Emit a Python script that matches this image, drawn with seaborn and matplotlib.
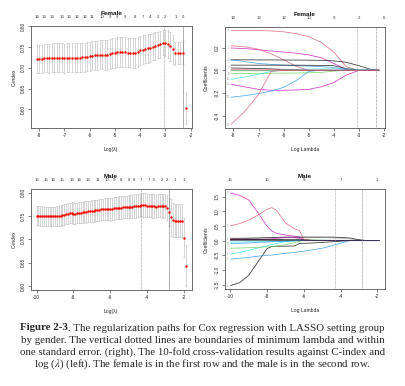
import numpy as np
import pandas as pd
import matplotlib
matplotlib.use("Agg")
import matplotlib.pyplot as plt
import seaborn as sns

sns.set_theme(style="white")
plt.rcParams['font.family'] = ['Liberation Sans', 'DejaVu Sans']
plt.rcParams['mathtext.fontset'] = 'stix'

# ---------------- Female cross-validation (C-index) ----------------
fem_loglam = [-8.1, -8.0, -7.9, -7.8, -7.7, -7.6, -7.5, -7.4, -7.3, -7.2, -7.1, -7.0,
              -6.9, -6.8, -6.7, -6.6, -6.5, -6.4, -6.3, -6.2, -6.1, -6.0,
              -5.9, -5.8, -5.7, -5.6, -5.5, -5.4, -5.3, -5.2, -5.1, -5.0,
              -4.9, -4.8, -4.7, -4.6, -4.5, -4.4, -4.3, -4.2, -4.1, -4.0,
              -3.9, -3.8, -3.7, -3.6, -3.5, -3.4, -3.3, -3.2, -3.1, -3.0,
              -2.9, -2.8, -2.7, -2.6, -2.5, -2.4, -2.3, -2.2]
fem_cindex = [0.722, 0.722, 0.722, 0.723, 0.723, 0.723, 0.724, 0.724, 0.724, 0.724, 0.724, 0.723,
              0.724, 0.724, 0.725, 0.725, 0.725, 0.725, 0.726, 0.726, 0.727, 0.728,
              0.729, 0.730, 0.731, 0.732, 0.732, 0.732, 0.732, 0.733, 0.735, 0.736,
              0.738, 0.739, 0.739, 0.738, 0.737, 0.737, 0.736, 0.735, 0.738, 0.742,
              0.744, 0.746, 0.747, 0.749, 0.751, 0.753, 0.755, 0.757, 0.761, 0.760,
              0.758, 0.752, 0.745, 0.735, 0.736, 0.736, 0.737, 0.603]
fem_se = [0.034, 0.034, 0.034, 0.034, 0.034, 0.035, 0.035, 0.035, 0.035, 0.035, 0.035, 0.035,
          0.035, 0.035, 0.035, 0.035, 0.035, 0.035, 0.035, 0.035, 0.035, 0.035,
          0.035, 0.035, 0.035, 0.035, 0.035, 0.036, 0.036, 0.036, 0.036, 0.036,
          0.036, 0.036, 0.036, 0.036, 0.036, 0.036, 0.036, 0.036, 0.036, 0.035,
          0.035, 0.034, 0.034, 0.034, 0.033, 0.033, 0.032, 0.032, 0.031, 0.031,
          0.033, 0.035, 0.035, 0.027, 0.027, 0.027, 0.027, 0.039]
fem_lam_min = -3.07
fem_lam_1se = -2.32
fem_df_pos = [-8.1, -7.8, -7.5, -7.1, -6.8, -6.5, -6.2, -5.9, -5.5, -5.2,
              -4.9, -4.6, -4.2, -3.9, -3.6, -3.3, -3.0, -2.6, -2.3]
fem_df_lab = ["14", "13", "13", "13", "13", "12", "12", "11", "10", "9",
              "9", "9", "8", "7", "4", "2", "2", "1", "0"]

# ---------------- Male cross-validation (C-index) ----------------
male_loglam = [-10.0, -9.9, -9.8, -9.7, -9.6, -9.5, -9.4, -9.3, -9.2, -9.1,
               -9.0, -8.9, -8.8, -8.7, -8.6, -8.5, -8.4, -8.3, -8.2, -8.1,
               -8.0, -7.9, -7.8, -7.7, -7.6, -7.5, -7.4, -7.3, -7.2, -7.1,
               -7.0, -6.9, -6.8, -6.7, -6.6, -6.5, -6.4, -6.3, -6.2, -6.1,
               -6.0, -5.9, -5.8, -5.7, -5.6, -5.5, -5.4, -5.3, -5.2, -5.1,
               -5.0, -4.9, -4.8, -4.7, -4.6, -4.5, -4.4, -4.3, -4.2, -4.1,
               -4.0, -3.9, -3.8, -3.7, -3.6, -3.5, -3.4, -3.3, -3.2, -3.1,
               -3.0, -2.9, -2.8, -2.7, -2.6, -2.5, -2.4, -2.3, -2.2, -2.1,
               -2.0, -1.9]
male_cindex = [0.751, 0.751, 0.750, 0.750, 0.749, 0.749, 0.749, 0.749, 0.749, 0.749,
               0.749, 0.750, 0.750, 0.751, 0.752, 0.753, 0.754, 0.755, 0.756, 0.757,
               0.755, 0.755, 0.756, 0.757, 0.757, 0.758, 0.759, 0.759, 0.760, 0.760,
               0.761, 0.761, 0.762, 0.762, 0.763, 0.764, 0.764, 0.765, 0.765, 0.765,
               0.764, 0.765, 0.766, 0.767, 0.767, 0.768, 0.768, 0.769, 0.769, 0.769,
               0.770, 0.770, 0.770, 0.771, 0.771, 0.772, 0.772, 0.774, 0.773, 0.773,
               0.772, 0.772, 0.772, 0.771, 0.771, 0.770, 0.772, 0.772, 0.771, 0.772,
               0.771, 0.768, 0.759, 0.747, 0.741, 0.740, 0.740, 0.740, 0.740, 0.740,
               0.704, 0.644]
male_se = [0.021, 0.021, 0.021, 0.021, 0.021, 0.021, 0.021, 0.021, 0.021, 0.021,
           0.021, 0.021, 0.021, 0.022, 0.022, 0.022, 0.022, 0.022, 0.022, 0.022,
           0.022, 0.022, 0.022, 0.022, 0.022, 0.022, 0.022, 0.023, 0.023, 0.023,
           0.023, 0.023, 0.023, 0.023, 0.023, 0.023, 0.023, 0.023, 0.024, 0.024,
           0.024, 0.024, 0.024, 0.024, 0.024, 0.024, 0.024, 0.024, 0.024, 0.024,
           0.024, 0.024, 0.024, 0.025, 0.025, 0.025, 0.025, 0.025, 0.025, 0.025,
           0.025, 0.025, 0.025, 0.025, 0.025, 0.025, 0.025, 0.025, 0.025, 0.025,
           0.026, 0.027, 0.030, 0.040, 0.036, 0.035, 0.035, 0.035, 0.035, 0.035,
           0.042, 0.044]
male_lam_min = -4.30
male_lam_1se = -2.81
male_df_pos = [-10.0, -9.5, -9.1, -8.6, -8.1, -7.7, -7.2, -6.7, -6.2, -5.8,
               -5.4, -5.0, -4.7, -4.3, -3.9, -3.6, -3.2, -2.9, -2.5, -2.0]
male_df_lab = ["16", "16", "14", "15", "16", "14", "13", "11", "10", "9",
               "8", "8", "8", "7", "7", "5", "2", "2", "1", "1"]

# ---------------- Female coefficient paths ----------------
fem_path_loglam = [-8.1, -7.5, -7.0, -6.5, -6.0, -5.5, -5.0, -4.5, -4.0, -3.5, -3.0, -2.5, -2.2]
f_p1 = [0.350, 0.350, 0.349, 0.346, 0.338, 0.322, 0.295, 0.245, 0.160, 0.030, 0, 0, 0]
f_p2 = [0.196, 0.190, 0.180, 0.170, 0.160, 0.150, 0.135, 0.110, 0.060, 0.005, 0, 0, 0]
f_p3 = [0.216, 0.205, 0.185, 0.145, 0.092, 0.035, 0, 0, 0, 0, 0, 0, 0]
f_p4 = [0.092, 0.092, 0.091, 0.091, 0.090, 0.090, 0.089, 0.087, 0.083, 0.070, 0.040, 0.005, 0]
f_p5 = [0.092, 0.075, 0.060, 0.052, 0.045, 0.040, 0.036, 0.032, 0.025, 0.005, 0, 0, 0]
f_p6 = [0.045, 0.045, 0.045, 0.045, 0.045, 0.045, 0.044, 0.043, 0.040, 0.015, 0, 0, 0]
f_p7 = [-0.004, -0.004, -0.004, -0.004, -0.003, -0.003, -0.003, -0.002, -0.001, 0, 0, 0, 0]
f_p8 = [-0.030, -0.028, -0.027, -0.026, -0.025, -0.024, -0.022, -0.018, -0.008, 0, 0, 0, 0]
f_p9 = [-0.080, -0.058, -0.035, -0.010, 0.005, 0.008, 0.010, 0.012, 0.013, 0.012, 0.008, 0.003, 0]
f_p10 = [-0.122, -0.148, -0.168, -0.176, -0.176, -0.173, -0.168, -0.145, -0.108, -0.042, 0, 0, 0]
f_p11 = [-0.237, -0.222, -0.205, -0.183, -0.150, -0.090, -0.010, 0, 0, 0, 0, 0, 0]
f_p12 = [-0.477, -0.350, -0.213, -0.010, 0, 0, 0, 0, 0, 0, 0, 0, 0]
f_p13 = [0.020, 0.018, 0.015, 0.012, 0.008, 0.004, 0, 0, 0, 0, 0, 0, 0]
f_p14 = [0.005, 0.005, 0.004, 0.004, 0.003, 0.003, 0.002, 0.002, 0.001, 0.001, 0, 0, 0]
fem_paths = [f_p1, f_p2, f_p3, f_p4, f_p5, f_p6, f_p13, f_p7, f_p8, f_p9, f_p10, f_p11, f_p12, f_p14]
fem_colors = ["#DF536B", "#CD0BBC", "#DF536B", "black", "#2297E6", "black", "black",
              "#1E8C2E", "#61D04F", "#28E2E5", "#CD0BBC", "#2297E6", "#DF536B", "#DF536B"]
fem_top_pos = [-8, -7, -6, -5, -4, -3, -2]
fem_top_lab = ["14", "13", "12", "10", "9", "2", "0"]

# ---------------- Male coefficient paths ----------------
male_path_loglam = [-10.0, -9.5, -9.0, -8.5, -8.0, -7.75, -7.5, -7.0, -6.5, -6.25,
                    -6.0, -5.5, -5.0, -4.5, -4.0, -3.5, -3.0, -2.5, -2.0, -1.9]
m_p1 = [1.62, 1.54, 1.38, 0.95, 0.48, 0.33, 0.25, 0.19, 0.15, 0.13, 0.02, 0, 0, 0, 0, 0, 0, 0, 0, 0]
m_p2 = [0.50, 0.58, 0.70, 0.87, 1.07, 1.12, 1.04, 0.60, 0.40, 0.35, 0.05, 0, 0, 0, 0, 0, 0, 0, 0, 0]
m_p3 = [-1.53, -1.43, -1.18, -0.72, -0.27, -0.20, -0.19, -0.19, -0.18, -0.10, -0.09, -0.08, -0.06, -0.04, -0.02, 0, 0, 0, 0, 0]
m_p4 = [-0.63, -0.60, -0.57, -0.53, -0.50, -0.49, -0.47, -0.43, -0.40, -0.38, -0.36, -0.31, -0.26, -0.18, -0.09, 0, 0, 0, 0, 0]
m_p5 = [-0.46, -0.40, -0.33, -0.25, -0.17, -0.13, -0.10, -0.03, 0, 0, 0, 0, 0, 0, 0, 0, 0, 0, 0, 0]
m_p6 = [-0.26, -0.25, -0.24, -0.23, -0.21, -0.20, -0.19, -0.14, -0.07, -0.03, 0, 0, 0, 0, 0, 0, 0, 0, 0, 0]
m_p7 = [0.08, 0.08, 0.085, 0.09, 0.10, 0.10, 0.11, 0.12, 0.12, 0.12, 0.12, 0.12, 0.12, 0.12, 0.11, 0.09, 0.03, 0, 0, 0]
m_p8 = [0.06, 0.06, 0.07, 0.08, 0.09, 0.10, 0.10, 0.10, 0.10, 0.10, 0.10, 0.10, 0.10, 0.09, 0.08, 0.06, 0.02, 0, 0, 0]
m_p9 = [0.05, 0.05, 0.04, 0.03, 0.02, 0.02, 0.01, 0, 0, 0, 0, 0, 0, 0, 0, 0, 0, 0, 0, 0]
m_p10 = [0.02, 0.02, 0.02, 0.02, 0.02, 0.02, 0.02, 0.02, 0.02, 0.02, 0.02, 0.02, 0.015, 0.01, 0.005, 0, 0, 0, 0, 0]
m_p11 = [-0.05, -0.05, -0.04, -0.04, -0.03, -0.03, -0.03, -0.02, -0.01, 0, 0, 0, 0, 0, 0, 0, 0, 0, 0, 0]
m_p12 = [-0.10, -0.09, -0.08, -0.06, -0.05, -0.04, -0.03, -0.02, -0.01, 0, 0, 0, 0, 0, 0, 0, 0, 0, 0, 0]
m_p13 = [0.03, 0.03, 0.03, 0.04, 0.05, 0.06, 0.08, 0.10, 0.10, 0.08, 0, 0, 0, 0, 0, 0, 0, 0, 0, 0]
m_p14 = [0.04, 0.04, 0.04, 0.04, 0.04, 0.04, 0.04, 0.03, 0.03, 0.03, 0.02, 0.01, 0, 0, 0, 0, 0, 0, 0, 0]
m_p15 = [0.01, 0.01, 0.01, 0.01, 0.01, 0.01, 0.01, 0.01, 0.01, 0.01, 0.01, 0.01, 0.01, 0.01, 0.01, 0.01, 0.01, 0.008, 0.004, 0]
male_paths = [m_p8, m_p1, m_p2, m_p3, m_p4, m_p5, m_p6, m_p7, m_p9, m_p10, m_p11, m_p12, m_p13, m_p14, m_p15]
male_colors = ["#B0B0B0", "#CD0BBC", "#DF536B", "black", "#2297E6", "#28E2E5", "#61D04F", "black",
               "#DF536B", "#1E8C2E", "#28E2E5", "#2297E6", "#CD0BBC", "black", "#404060"]
male_top_pos = [-10, -8, -6, -4, -2]
male_top_lab = ["16", "15", "9", "7", "1"]

caption_bold = "Figure 2-3"
caption_lines = [
    ". The regularization paths for Cox regression with LASSO setting group",
    "by gender. The vertical dotted lines are boundaries of minimum lambda and within",
    "one standard error. (right). The 10-fold cross-validation results against C-index and",
    r"log ($\lambda$) (left). The female is in the first row and the male is in the second row.",
]

# ---------------- figure ----------------
W, H = 405, 386
fig = plt.figure(figsize=(W / 100, H / 100), dpi=100)
fig.patch.set_facecolor("white")

TICK_FS = 3.4
LAB_FS = 3.6
TITLE_FS = 4.6
DF_FS = 3.1
SPINE_C = "#555555"


def r_pad(vals, frac=0.04):
    lo, hi = min(vals), max(vals)
    d = (hi - lo) * frac
    return lo - d, hi + d


def style_axes(ax, hpx, wpx, xticks, ylab, xlab, title, top_pos, top_lab, yticks, yfmt):
    ax.set_facecolor("white")
    for s in ax.spines.values():
        s.set_color(SPINE_C)
        s.set_linewidth(0.6)
        s.set_visible(True)
    ax.set_xticks(xticks)
    ax.set_xticklabels([f"{t:g}" for t in xticks])
    ax.set_yticks(yticks)
    ax.set_yticklabels([yfmt.format(t) for t in yticks])
    ax.tick_params(axis="both", which="major", direction="out", length=2.0, width=0.5,
                   color=SPINE_C, labelsize=TICK_FS, pad=1.6, bottom=True, left=True,
                   labelcolor="#222222")
    for lab in ax.get_yticklabels():
        lab.set_rotation(90)
        lab.set_verticalalignment("center")
    ax.set_xlabel(xlab, fontsize=LAB_FS, color="#222222")
    ax.set_ylabel(ylab, fontsize=LAB_FS, color="#222222")
    ax.xaxis.set_label_coords(0.5, -19.0 / hpx)
    ax.yaxis.set_label_coords(-14.0 / wpx, 0.5)
    sec = ax.secondary_xaxis("top")
    sec.set_xticks(top_pos)
    sec.set_xticklabels(top_lab)
    sec.tick_params(length=0, labelsize=DF_FS, pad=5.0, labelcolor="#333333")
    sec.spines["top"].set_visible(False)
    ax.text(0.5, 1 + 12.5 / hpx, title, transform=ax.transAxes, ha="center", va="center",
            fontsize=TITLE_FS, fontweight="bold", color="#111111")


def cv_panel(rect, loglam, cidx, se, lmin, l1se, df_pos, df_lab, title, xticks):
    ax = fig.add_axes(rect)
    wpx, hpx = rect[2] * W, rect[3] * H
    lo = [c - s for c, s in zip(cidx, se)]
    hi = [c + s for c, s in zip(cidx, se)]
    ax.errorbar(loglam, cidx, yerr=se, fmt="none", ecolor="#BDBDBD", elinewidth=0.45,
                capsize=0.9, capthick=0.45, zorder=1)
    sns.scatterplot(x=loglam, y=cidx, ax=ax, color="red", s=3.0, linewidth=0, zorder=3)
    ax.axvline(lmin, color="#888888", linestyle=(0, (1, 1)), linewidth=0.5, zorder=2)
    ax.axvline(l1se, color="#555555", linestyle=(0, (1, 0.6)), linewidth=0.5, zorder=2)
    ax.set_xlim(*r_pad(loglam))
    ax.set_ylim(*r_pad(lo + hi))
    style_axes(ax, hpx, wpx, xticks, "C-index", "Log(\u03bb)", title, df_pos, df_lab,
               [0.60, 0.65, 0.70, 0.75, 0.80], "{:.2f}")
    return ax


def coef_panel(rect, loglam, paths, colors, lmin, l1se, top_pos, top_lab, title, xticks, yticks, yfmt):
    ax = fig.add_axes(rect)
    wpx, hpx = rect[2] * W, rect[3] * H
    rows = []
    for i, p in enumerate(paths):
        for x, v in zip(loglam, p):
            rows.append({"loglam": x, "coef": v, "var": f"v{i:02d}"})
    df = pd.DataFrame(rows)
    pal = {f"v{i:02d}": c for i, c in enumerate(colors)}
    sns.lineplot(data=df, x="loglam", y="coef", hue="var", palette=pal, legend=False,
                 linewidth=0.55, alpha=0.8, estimator=None, sort=False, ax=ax)
    ax.axvline(lmin, color="#999999", linestyle=(0, (1, 1)), linewidth=0.5)
    ax.axvline(l1se, color="#777777", linestyle=(0, (1, 1)), linewidth=0.5)
    allv = [v for p in paths for v in p]
    xl = r_pad(loglam)
    yl = r_pad(allv)
    ax.set_xlim(*xl)
    ax.set_ylim(*yl)
    # small variable-number labels at the start of each path (glmnet label=TRUE),
    # skipping those that would sit on top of one another
    min_gap = 0.045 * (yl[1] - yl[0])
    placed = []
    order = sorted(range(len(paths)), key=lambda k: paths[k][0])
    for i in order:
        y0 = paths[i][0]
        if any(abs(y0 - q) < min_gap for q in placed):
            continue
        placed.append(y0)
        ax.text(xl[0] + 0.02 * (xl[1] - xl[0]), y0, str(i + 1), fontsize=1.8,
                color="#888888", ha="center", va="center")
    style_axes(ax, hpx, wpx, xticks, "Coefficients", "Log Lambda", title, top_pos, top_lab,
               yticks, yfmt)
    ax.yaxis.set_label_coords(-16.0 / wpx, 0.5)
    return ax


cv_panel([30.7 / W, 1 - 128.0 / H, 160.8 / W, 102.0 / H], fem_loglam, fem_cindex, fem_se,
         fem_lam_min, fem_lam_1se, fem_df_pos, fem_df_lab, "Female", [-8, -7, -6, -5, -4, -3, -2])
coef_panel([225.0 / W, 1 - 128.3 / H, 160.0 / W, 101.6 / H], fem_path_loglam, fem_paths, fem_colors,
           fem_lam_min, fem_lam_1se, fem_top_pos, fem_top_lab, "Female",
           [-8, -7, -6, -5, -4, -3, -2], [-0.4, -0.2, 0.0, 0.2], "{:.1f}")
cv_panel([30.7 / W, 1 - 290.0 / H, 160.8 / W, 100.7 / H], male_loglam, male_cindex, male_se,
         male_lam_min, male_lam_1se, male_df_pos, male_df_lab, "Male", [-10, -8, -6, -4, -2])
coef_panel([224.5 / W, 1 - 289.3 / H, 160.5 / W, 100.0 / H], male_path_loglam, male_paths, male_colors,
           male_lam_min, male_lam_1se, male_top_pos, male_top_lab, "Male",
           [-10, -8, -6, -4, -2], [-1.5, -1.0, -0.5, 0.0, 0.5, 1.0, 1.5], "{:.1f}")

# ---------------- caption ----------------
CAP_FS = 7.8
serif = ["Liberation Serif", "DejaVu Serif"]
renderer = fig.canvas.get_renderer()
cx = 202.5
line_y = [328.0, 340.0, 352.0, 364.0]
tb = fig.text(0, 1 - line_y[0] / H, caption_bold, family=serif, fontsize=CAP_FS,
              fontweight="bold", va="center", ha="left")
tn = fig.text(0, 1 - line_y[0] / H, caption_lines[0], family=serif, fontsize=CAP_FS,
              va="center", ha="left")
wb = tb.get_window_extent(renderer).width
wn = tn.get_window_extent(renderer).width
x0 = cx - (wb + wn) / 2
tb.set_x(x0 / W)
tn.set_x((x0 + wb) / W)
for txt, yy in zip(caption_lines[1:], line_y[1:]):
    fig.text(cx / W, 1 - yy / H, txt, family=serif, fontsize=CAP_FS, va="center", ha="center")

fig.savefig("out.png", dpi=100, facecolor="white")
